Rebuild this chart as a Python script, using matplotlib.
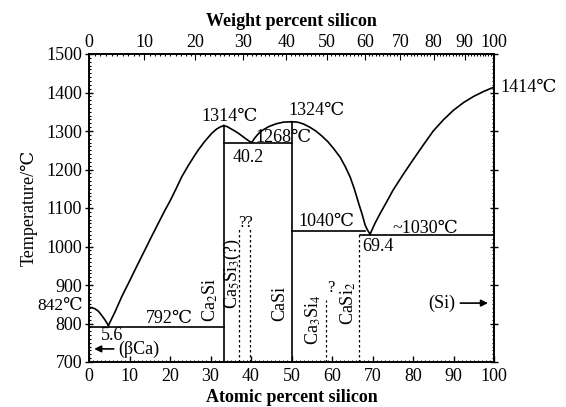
import matplotlib
matplotlib.use('Agg')
import matplotlib.pyplot as plt
import numpy as np

plt.rcParams['font.family'] = ['Liberation Serif', 'DejaVu Serif', 'Noto Sans CJK SC']
plt.rcParams['mathtext.fontset'] = 'stix'

# ---- data (atomic % Si, temperature in deg C) ----
ca_liq_x = [0, 0.8, 1.5, 2.3, 3.0, 3.9, 4.8]
ca_liq_t = [842, 841, 838, 832, 823, 810, 795]

ca2si_liq_x = [4.8, 6.5, 8.1, 10.0, 12.0, 13.8, 15.5, 17.0, 18.8, 20.0, 21.5,
               22.9, 24.5, 26.0, 27.0, 28.5, 30.3, 31.5, 32.5, 33.3]
ca2si_liq_t = [795, 832, 870, 910, 953, 991, 1027, 1058, 1095, 1118, 1150,
               1181, 1210, 1235, 1251, 1272, 1294, 1305, 1311, 1314]

mid_liq_x = [33.3, 34.2, 35.0, 36.0, 36.9, 37.8, 38.7, 39.5, 40.2,
             40.8, 41.5, 42.2, 43.0, 44.5, 46.3, 48.0, 50.0]
mid_liq_t = [1314, 1311, 1306, 1300, 1294, 1287, 1280, 1274, 1270,
             1280, 1289, 1297, 1303, 1312, 1319, 1323, 1324]

casi_liq_x = [50.0, 51.5, 53.0, 54.5, 56.0, 57.5, 59.0, 60.5, 62.0, 63.3,
              64.5, 65.5, 66.5, 67.4, 68.2, 68.8, 69.4]
casi_liq_t = [1324, 1323, 1318, 1310, 1300, 1287, 1272, 1253, 1232, 1207,
              1180, 1150, 1115, 1085, 1055, 1042, 1032]

si_liq_x = [69.4, 70.6, 71.9, 73.5, 75.0, 77.5, 80.0, 82.5, 85.0, 87.5,
            90.0, 92.5, 95.0, 97.5, 100.0]
si_liq_t = [1032, 1060, 1086, 1116, 1145, 1186, 1225, 1263, 1300, 1329,
            1354, 1374, 1390, 1403, 1414]

# horizontal invariant lines: (x_start, x_end, T)
iso_x0 = [0.0, 33.3, 50.0, 67.0]
iso_x1 = [33.3, 50.0, 68.2, 100.0]
iso_t = [792, 1268, 1040, 1030]

# solid compound lines (congruent): x, top T
solid_cmp_x = [33.3, 50.0]
solid_cmp_t = [1314, 1324]

# dashed (uncertain) compound lines: x, top T
dash_cmp_x = [37.1, 39.8, 58.6, 66.7]
dash_cmp_t = [1045, 1045, 862, 1030]

x_ticks = [0, 10, 20, 30, 40, 50, 60, 70, 80, 90, 100]
y_ticks = [700, 800, 900, 1000, 1100, 1200, 1300, 1400, 1500]
wt_ticks = [0, 10, 20, 30, 40, 50, 60, 70, 80, 90, 100]

M_CA, M_SI = 40.078, 28.086


def wt_to_at(w):
    w = np.asarray(w, dtype=float)
    a = w / M_SI
    b = (100 - w) / M_CA
    return 100 * a / (a + b)


fig = plt.figure(figsize=(5.66, 4.07), dpi=100)
ax = fig.add_axes([89 / 566, 1 - 362 / 407, (494 - 89) / 566, (362 - 54) / 407])

lw = 1.2
kw = dict(color='k', lw=lw, solid_joinstyle='round')
ax.plot(ca_liq_x, ca_liq_t, **kw)
ax.plot(ca2si_liq_x, ca2si_liq_t, **kw)
ax.plot(mid_liq_x, mid_liq_t, **kw)
ax.plot(casi_liq_x, casi_liq_t, **kw)
ax.plot(si_liq_x, si_liq_t, **kw)
for x0, x1, t in zip(iso_x0, iso_x1, iso_t):
    ax.plot([x0, x1], [t, t], **kw)
for x, t in zip(solid_cmp_x, solid_cmp_t):
    ax.plot([x, x], [700, t], **kw)
for x, t in zip(dash_cmp_x, dash_cmp_t):
    ax.plot([x, x], [700, t], color='k', lw=0.9, linestyle=(0, (2, 2)))

ax.set_xlim(0, 100)
ax.set_ylim(700, 1500)
ax.set_xticks(x_ticks)
ax.set_yticks(y_ticks)
ax.set_xticks(np.arange(0, 101, 1), minor=True)
ax.set_yticks(np.arange(700, 1501, 10), minor=True)
ax.tick_params(axis='both', which='major', labelsize=13, width=1, length=4)
ax.tick_params(axis='x', which='major', direction='in', pad=4)
ax.tick_params(axis='y', which='major', direction='inout', length=6, pad=2,
               right=True)
ax.tick_params(axis='both', which='minor', direction='in', length=1.5, width=0.8)
ax.tick_params(axis='y', which='minor', right=True)
for s in ax.spines.values():
    s.set_linewidth(1.2)

ax.set_xlabel('Atomic percent silicon', fontsize=13, fontweight='bold', labelpad=3)
ax.set_ylabel('Temperature/℃', fontsize=13, labelpad=6)

ax2 = ax.twiny()
ax2.set_xlim(0, 100)
ax2.set_xticks(wt_to_at(wt_ticks))
ax2.set_xticklabels([str(w) for w in wt_ticks])
ax2.set_xticks(wt_to_at(np.arange(0, 101, 1)), minor=True)
ax2.tick_params(axis='x', which='major', direction='in', labelsize=13, length=4, pad=2)
ax2.tick_params(axis='x', which='minor', direction='in', length=1.5, width=0.8)
ax2.set_xlabel('Weight percent silicon', fontsize=13, fontweight='bold', labelpad=6)
for s in ax2.spines.values():
    s.set_linewidth(1.2)

fs = 13
ax.text(34.8, 1338, '1314℃', fontsize=fs, ha='center', va='center')
ax.text(56.2, 1352, '1324℃', fontsize=fs, ha='center', va='center')
ax.text(47.9, 1284, '1268℃', fontsize=fs, ha='center', va='center')
ax.text(39.3, 1230, '40.2', fontsize=fs, ha='center', va='center')
ax.text(58.7, 1064, '1040℃', fontsize=fs, ha='center', va='center')
ax.text(83.0, 1048, '~1030℃', fontsize=fs, ha='center', va='center')
ax.text(71.4, 1000, '69.4', fontsize=fs, ha='center', va='center')
ax.text(19.9, 814, '792℃', fontsize=fs, ha='center', va='center')
ax.text(5.6, 770, '5.6', fontsize=fs, ha='center', va='center')
ax.text(12.2, 734, '(βCa)', fontsize=fs, ha='center', va='center')
ax.text(87.1, 853, '(Si)', fontsize=fs, ha='center', va='center')
ax.text(38.6, 1062, '??', fontsize=fs - 1, ha='center', va='center')
ax.text(59.8, 892, '?', fontsize=fs - 1, ha='center', va='center')
ax.text(101.6, 1414, '1414℃', fontsize=fs, ha='left', va='center', clip_on=False)
ax.text(-1.6, 846, '842℃', fontsize=fs - 0.5, ha='right', va='center', clip_on=False)

ax.text(30.0, 861, 'Ca$_2$Si', fontsize=fs, rotation=90, ha='center', va='center')
ax.text(35.4, 930, 'Ca$_5$Si$_3$(?)', fontsize=fs, rotation=90, ha='center', va='center')
ax.text(47.2, 853, 'CaSi', fontsize=fs, rotation=90, ha='center', va='center')
ax.text(55.3, 809, 'Ca$_3$Si$_4$', fontsize=fs, rotation=90, ha='center', va='center')
ax.text(64.0, 853, 'CaSi$_2$', fontsize=fs, rotation=90, ha='center', va='center')

arrow = dict(arrowstyle='-|>', color='k', lw=1.2, mutation_scale=10)
ax.annotate('', xy=(0.6, 734), xytext=(6.8, 734), arrowprops=arrow)
ax.annotate('', xy=(99.2, 853), xytext=(91.0, 853), arrowprops=arrow)

fig.savefig('out.png', dpi=100)
